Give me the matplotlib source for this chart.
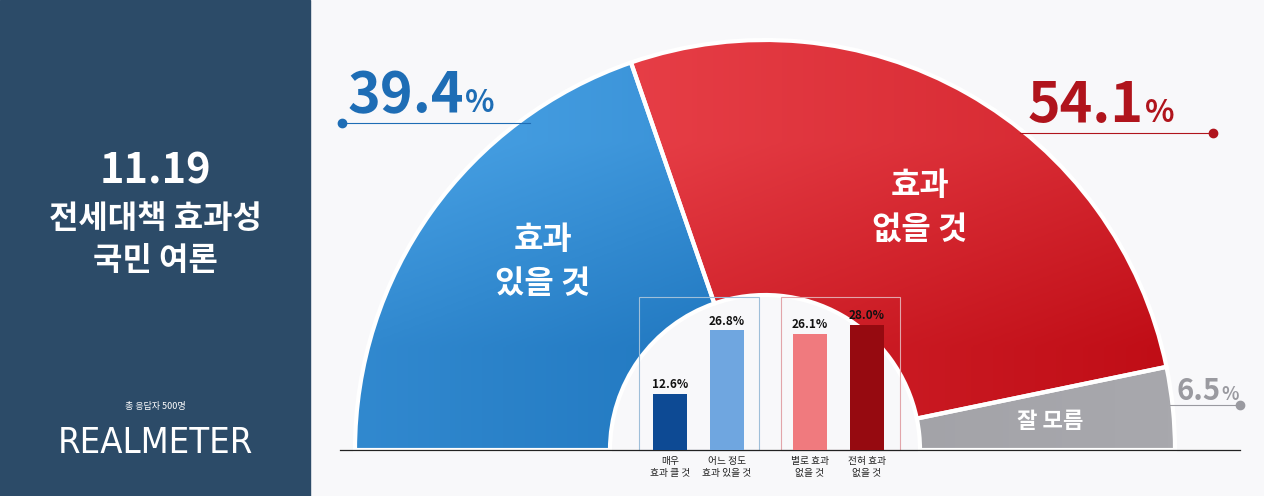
import numpy as np
import matplotlib.pyplot as plt
from matplotlib.patches import Wedge, Rectangle
from matplotlib.colors import LinearSegmentedColormap

plt.rcParams['font.family'] = ['Noto Sans CJK KR', 'DejaVu Sans']

# data
main_labels = ["효과\n있을 것", "효과\n없을 것", "잘 모름"]
main_values = [39.4, 54.1, 6.5]
sub_labels = ["매우\n효과 클 것", "어느 정도\n효과 있을 것", "별로 효과\n없을 것", "전혀 효과\n없을 것"]
sub_values = [12.6, 26.8, 26.1, 28.0]
sub_colors = ["#0d4a94", "#6fa6e0", "#f07a7e", "#960a10"]

W, H = 1264, 496
fig = plt.figure(figsize=(W / 100, H / 100), dpi=100)
ax = fig.add_axes([0, 0, 1, 1])
ax.set_xlim(0, W)
ax.set_ylim(H, 0)
ax.axis('off')
ax.add_patch(Rectangle((0, 0), W, H, color="#f8f8fa", zorder=0))

# left panel
ax.add_patch(Rectangle((0, 0), 310, H, color="#2c4b68", zorder=1))
ax.text(155, 172, "11.19", color="white", fontsize=30, fontweight="bold", ha="center", va="center", zorder=2)
ax.text(155, 240, "전세대책 효과성\n국민 여론", color="white", fontsize=23, fontweight="bold",
        ha="center", va="center", linespacing=1.4, zorder=2)
ax.text(155, 406, "총 응답자 500명", color="white", fontsize=6.5, ha="center", va="center", zorder=2)
ax.text(155, 443, "REALMETER", color="white", fontsize=26, ha="center", va="center",
        family="DejaVu Sans", fontstretch="condensed", fontweight="light", zorder=2)

# half donut (y axis is inverted, so angles are negated)
cx, cy, r_out, r_in = 765, 450, 410, 155
grads = [("#4aa3e6", "#0c62ad"), ("#f04a52", "#c00d16"), ("#8f8f95", "#a8a8ad")]
ang = 180.0
for val, (c1, c2) in zip(main_values, grads):
    span = val / 100 * 180
    a1, a0 = ang, ang - span
    cmap = LinearSegmentedColormap.from_list("g", [c1, c2])
    grad = np.linspace(0, 1, 256).reshape(1, -1)
    grad = np.repeat(grad, 2, axis=0) * 0.6 + np.linspace(0, 1, 2).reshape(-1, 1) * 0.4
    im = ax.imshow(grad, cmap=cmap, extent=(cx - r_out, cx + r_out, cy, cy - r_out),
                   aspect='auto', zorder=3, interpolation='bilinear')
    clip = Wedge((cx, cy), r_out, -a1, -a0, width=r_out - r_in, transform=ax.transData)
    im.set_clip_path(clip)
    ax.add_patch(Wedge((cx, cy), r_out, -a1, -a0, width=r_out - r_in, facecolor="none",
                       edgecolor="white", lw=3, zorder=4))
    ang = a0
ax.set_xlim(0, W)
ax.set_ylim(H, 0)

ax.text(543, 262, main_labels[0], color="white", fontsize=23, fontweight="bold", ha="center", va="center",
        linespacing=1.45, zorder=5)
ax.text(920, 208, main_labels[1], color="white", fontsize=23, fontweight="bold", ha="center", va="center",
        linespacing=1.45, zorder=5)
ax.text(1050, 421, main_labels[2], color="white", fontsize=16, fontweight="bold", ha="center", va="center", zorder=5)

# percent callouts
def callout(x, y, val, color, big, small, lx0, lx1, ly, dot_x):
    t = ax.text(x, y, f"{val}", color=color, fontsize=big, fontweight="bold", ha="left", va="baseline", zorder=6)
    fig.canvas.draw()
    bb = t.get_window_extent().transformed(ax.transData.inverted())
    ax.text(bb.x1 + 1, y, "%", color=color, fontsize=small, fontweight="bold", ha="left", va="baseline", zorder=6)
    ax.plot([lx0, lx1], [ly, ly], color=color, lw=0.8, zorder=6)
    ax.plot([dot_x], [ly], "o", color=color, ms=6, zorder=6)

callout(348, 112, main_values[0], "#1e6db5", 40, 22, 342, 530, 123, 342)
callout(1028, 122, main_values[1], "#b0141c", 40, 22, 1020, 1213, 133, 1213)
callout(1176, 400, main_values[2], "#9a9aa0", 21, 13, 1170, 1240, 405, 1240)

# sub bar chart
ax.add_patch(Rectangle((639, 297), 120, 153, facecolor="none", edgecolor="#9fbfd9", lw=0.8, zorder=7))
ax.add_patch(Rectangle((781, 297), 119, 153, facecolor="none", edgecolor="#e2a5aa", lw=0.8, zorder=7))
bax = fig.add_axes([640 / W, 1 - 450 / H, 260 / W, 160 / H])
bax.set_xlim(0, 260)
bax.set_ylim(0, 160 / 4.46)
bax.axis('off')
bx = [30, 87, 170, 227]
bax.bar(bx, sub_values, width=34, color=sub_colors, zorder=8)
for x, v in zip(bx, sub_values):
    bax.text(x, v + 0.6, f"{v}%", ha="center", va="bottom", fontsize=8.5, fontweight="bold", color="#111111")
for x, lab in zip(bx, sub_labels):
    ax.text(640 + x, 456, lab, ha="center", va="top", fontsize=7, color="#222222", linespacing=1.3, zorder=8)

ax.plot([340, 1240], [450, 450], color="#222222", lw=0.9, zorder=9)

fig.savefig("out.png", dpi=100)
